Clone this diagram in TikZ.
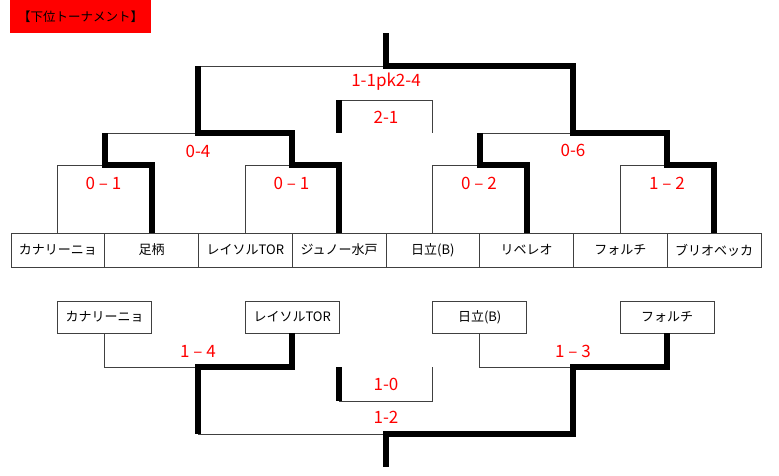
\documentclass[tikz,border=0pt]{standalone}
\usepackage{fontspec}
\setmainfont{Noto Sans CJK JP}
\begin{document}
\begin{tikzpicture}[x=1pt,y=-1pt,
  team/.style={draw=black!75, line width=0.8pt, minimum width=93.75pt, minimum height=34pt, inner sep=0pt, font=\fontsize{13}{13}\selectfont},
  teamb/.style={team, minimum width=94pt, minimum height=32pt},
  thinl/.style={draw=black!75, line width=0.9pt},
  thickl/.style={draw=black, line width=6pt, line join=miter},
  score/.style={text=red, font=\fontsize{17}{17}\selectfont, inner sep=0pt},
  title/.style={fill=red, minimum width=141pt, minimum height=33pt, inner sep=0pt, font=\fontsize{12.5}{13}\selectfont}]
\useasboundingbox (0,0) rectangle (779,476);
\node[title] (ttl) at (80.5,16.5) {【下位トーナメント】};
% top row teams
\node[team] (t1) at (57.9,250) {カナリーニョ};
\node[team] (t2) at (151.6,250) {足柄};
\node[team] (t3) at (245.4,250) {レイソルTOR};
\node[team] (t4) at (339.1,250) {ジュノー水戸};
\node[team] (t5) at (432.9,250) {日立(B)};
\node[team] (t6) at (526.6,250) {リベレオ};
\node[team] (t7) at (620.4,250) {フォルチ};
\node[team] (t8) at (714.1,250) {ブリオベッカ};
% junctions
\coordinate (a1) at (104.7,165);
\coordinate (a2) at (292.2,165);
\coordinate (a3) at (479.7,165);
\coordinate (a4) at (667.2,165);
\coordinate (b1) at (198.4,133);
\coordinate (b2) at (573.4,133);
\coordinate (c) at (385.9,66);
\coordinate (top) at (385.9,33);
\coordinate (q1) at (339.1,133);
\coordinate (q2) at (339.1,100);
\coordinate (q3) at (432.9,100);
\coordinate (q4) at (432.9,133);
% thin lines
\draw[thinl] (t1.north) |- (a1);
\draw[thinl] (t3.north) |- (a2);
\draw[thinl] (t5.north) |- (a3);
\draw[thinl] (t7.north) |- (a4);
\draw[thinl] (a1 |- b1) -- (b1);
\draw[thinl] (a3 |- b2) -- (b2);
\draw[thinl] (b1 |- c) -- (c);
\draw[thinl] (q2) -- (q3) -- (q4);
% thick lines
\draw[thickl] (t2.north) |- (a1) -- (a1 |- b1);
\draw[thickl] (t4.north) |- (a2) -- (a2 |- b1) -- (b1) -- (b1 |- c);
\draw[thickl] (t6.north) |- (a3) -- (a3 |- b2);
\draw[thickl] (t8.north) |- (a4) -- (a4 |- b2) -- (b2) -- (b2 |- c) -- (c) -- (top);
\draw[thickl] (q1) -- (q2);
% scores
\node[score] (s1) at (103.5,183) {0 – 1};
\node[score] (s2) at (291.5,183) {0 – 1};
\node[score] (s3) at (479,183) {0 – 2};
\node[score] (s4) at (667,183) {1 – 2};
\node[score] (s5) at (198,151) {0-4};
\node[score] (s6) at (573,150) {0-6};
\node[score] (s7) at (386,82) {1-1pk2-4};
\node[score] (s8) at (386,117) {2-1};
% bottom
\node[teamb] (u1) at (104.7,317) {カナリーニョ};
\node[teamb] (u2) at (292.2,317) {レイソルTOR};
\node[teamb] (u3) at (479.7,317) {日立(B)};
\node[teamb] (u4) at (667.2,317) {フォルチ};
\coordinate (d1) at (198.4,367);
\coordinate (d2) at (573.4,367);
\coordinate (e) at (385.9,434);
\coordinate (bot) at (385.9,467);
\coordinate (r1) at (339.1,367);
\coordinate (r2) at (339.1,401);
\coordinate (r3) at (432.9,401);
\coordinate (r4) at (432.9,367);
\draw[thinl] (u1.south) |- (d1);
\draw[thinl] (u3.south) |- (d2);
\draw[thinl] (d1 |- e) -- (e);
\draw[thinl] (r2) -- (r3) -- (r4);
\draw[thickl] (u2.south) |- (d1) -- (d1 |- e);
\draw[thickl] (u4.south) |- (d2) -- (d2 |- e) -- (e) -- (bot);
\draw[thickl] (r1) -- (r2);
\node[score] (v1) at (198,351) {1 – 4};
\node[score] (v2) at (573,351) {1 – 3};
\node[score] (v3) at (386,384) {1-0};
\node[score] (v4) at (386,417) {1-2};
\end{tikzpicture}
\end{document}
